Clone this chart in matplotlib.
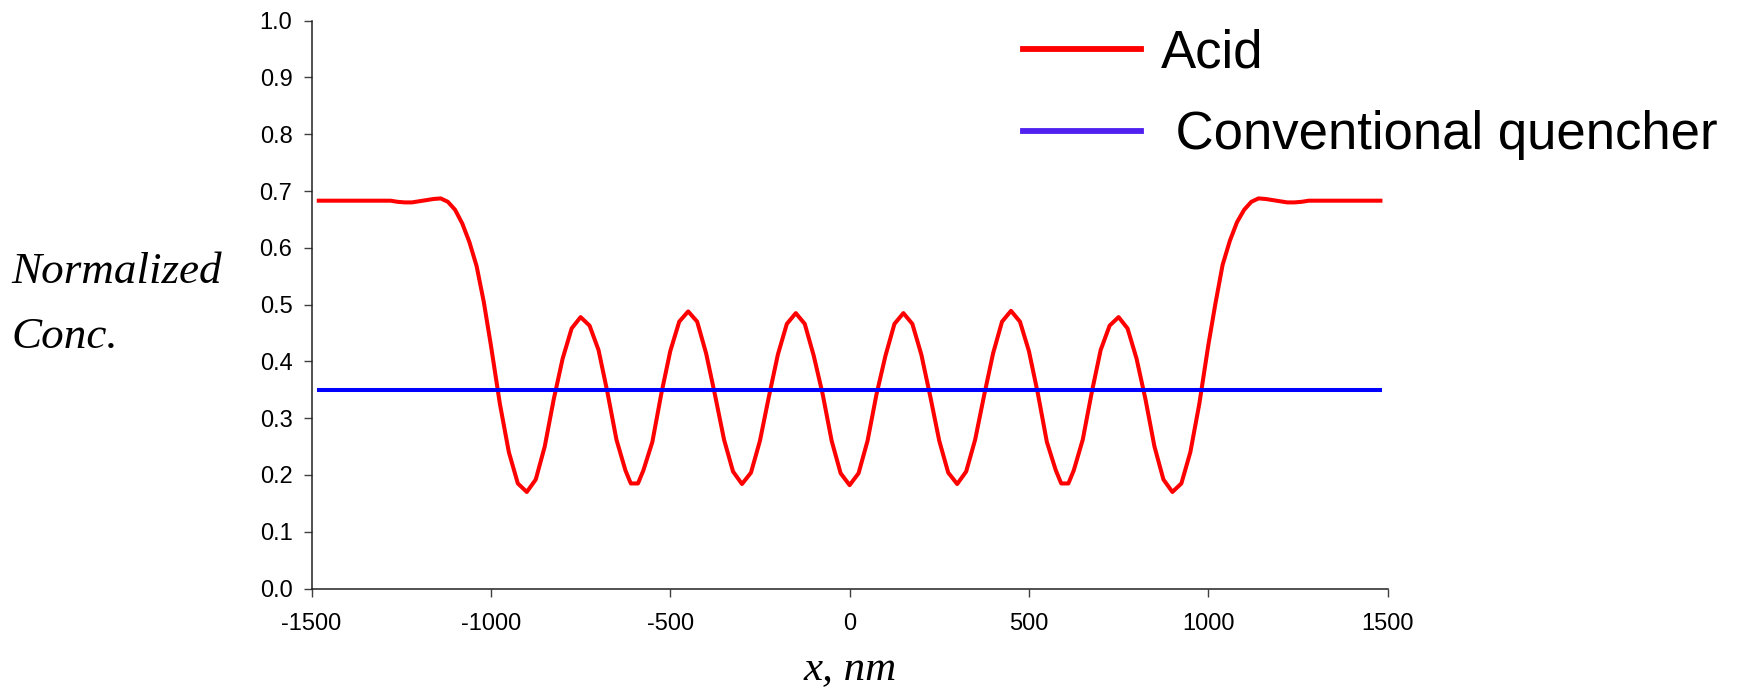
import matplotlib
matplotlib.use("Agg")
import matplotlib.pyplot as plt
from matplotlib.lines import Line2D

# Position across the pattern (nm) and normalized acid concentration
x_nm = [-1480, -1460, -1440, -1420, -1400, -1380, -1360, -1340, -1320, -1300,
        -1280, -1260, -1240, -1220, -1200, -1180, -1160, -1140, -1120, -1100,
        -1080, -1060, -1040, -1020, -1000, -975, -950, -925, -900, -875,
        -850, -825, -800, -775, -750, -725, -700, -675, -650, -625,
        -610, -590, -575, -550, -525, -500, -475, -450, -425, -400,
        -375, -350, -325, -300, -275, -250, -225, -200, -175, -150,
        -125, -100, -75, -50, -25, 0, 25, 50, 75, 100,
        125, 150, 175, 200, 225, 250, 275, 300, 325, 350,
        375, 400, 425, 450, 475, 500, 525, 550, 575, 590,
        610, 625, 650, 675, 700, 725, 750, 775, 800, 825,
        850, 875, 900, 925, 950, 975, 1000, 1020, 1040, 1060,
        1080, 1100, 1120, 1140, 1160, 1180, 1200, 1220, 1240, 1260,
        1280, 1300, 1320, 1340, 1360, 1380, 1400, 1420, 1440, 1460,
        1480]

acid = [0.683, 0.683, 0.683, 0.683, 0.683, 0.683, 0.683, 0.683, 0.683, 0.683,
        0.683, 0.681, 0.680, 0.680, 0.682, 0.684, 0.686, 0.687, 0.681, 0.667,
        0.643, 0.610, 0.568, 0.505, 0.428, 0.325, 0.240, 0.185, 0.170, 0.192,
        0.250, 0.333, 0.405, 0.458, 0.478, 0.463, 0.420, 0.345, 0.262, 0.208,
        0.185, 0.185, 0.208, 0.258, 0.343, 0.418, 0.470, 0.488, 0.470, 0.414,
        0.340, 0.262, 0.206, 0.184, 0.204, 0.260, 0.338, 0.412, 0.466, 0.485,
        0.466, 0.410, 0.342, 0.260, 0.203, 0.182, 0.203, 0.260, 0.342, 0.410,
        0.466, 0.485, 0.466, 0.412, 0.338, 0.260, 0.204, 0.184, 0.206, 0.262,
        0.340, 0.414, 0.470, 0.489, 0.470, 0.418, 0.343, 0.258, 0.208, 0.185,
        0.185, 0.208, 0.262, 0.345, 0.420, 0.463, 0.478, 0.458, 0.405, 0.333,
        0.250, 0.192, 0.170, 0.185, 0.240, 0.325, 0.428, 0.502, 0.570, 0.612,
        0.645, 0.667, 0.681, 0.687, 0.686, 0.684, 0.682, 0.680, 0.680, 0.681,
        0.683, 0.683, 0.683, 0.683, 0.683, 0.683, 0.683, 0.683, 0.683, 0.683,
        0.683]

# Conventional quencher: uniform level across the whole range
quencher_level = 0.35
quencher = [quencher_level] * len(x_nm)

x_ticks = [-1500, -1000, -500, 0, 500, 1000, 1500]
y_ticks = [0.0, 0.1, 0.2, 0.3, 0.4, 0.5, 0.6, 0.7, 0.8, 0.9, 1.0]
series_labels = ["Acid", " Conventional quencher"]

plt.rcParams["font.family"] = ["Liberation Sans", "DejaVu Sans"]
plt.rcParams["axes.unicode_minus"] = False

W, H = 1739, 687
fig = plt.figure(figsize=(W / 100, H / 100), dpi=100)
ax = fig.add_axes([311.6 / W, 1 - 588.5 / H, (1387.6 - 311.6) / W, (588.5 - 20.7) / H])

ax.plot(x_nm, acid, color="#ff0000", lw=2.9, solid_joinstyle="round")
ax.plot(x_nm, quencher, color="#0000ff", lw=2.9)

ax.set_xlim(-1500, 1500)
ax.set_ylim(0, 1)
ax.set_xticks(x_ticks)
ax.set_xticklabels([str(t) for t in x_ticks])
ax.set_yticks(y_ticks)
ax.set_yticklabels([f"{t:.1f}" for t in y_ticks])

for side in ("top", "right"):
    ax.spines[side].set_visible(False)
for side in ("left", "bottom"):
    ax.spines[side].set_color("#202020")
    ax.spines[side].set_linewidth(1.1)

ax.tick_params(axis="both", direction="out", length=5.8, width=1.0,
               color="#404040", labelsize=17, labelcolor="black")
ax.tick_params(axis="y", pad=8)
ax.tick_params(axis="x", pad=12)

# Axis titles in italic serif
serif = ["Liberation Serif", "DejaVu Serif"]
ax.set_xlabel("x, nm", fontsize=31, fontstyle="italic", family=serif, va="baseline")
ax.xaxis.set_label_coords(0.5, -(680 - 588.5) / (588.5 - 20.7))
fig.text(11.7 / W, 1 - 283.3 / H, "Normalized", fontsize=32.5, fontstyle="italic",
         family=serif, ha="left", va="baseline")
fig.text(11.7 / W, 1 - 348.3 / H, "Conc.", fontsize=32.5, fontstyle="italic",
         family=serif, ha="left", va="baseline")

handles = [Line2D([], [], color="#ff0000", lw=4.2),
           Line2D([], [], color="#5020f0", lw=4.2)]
fig.legend(handles, series_labels, loc="upper left",
           bbox_to_anchor=(1023 / W, 1 - 28 / H), frameon=False,
           fontsize=38, handlelength=2.23, handletextpad=0.38,
           labelspacing=0.61, borderpad=0, borderaxespad=0)

fig.savefig("out.png", dpi=100)
